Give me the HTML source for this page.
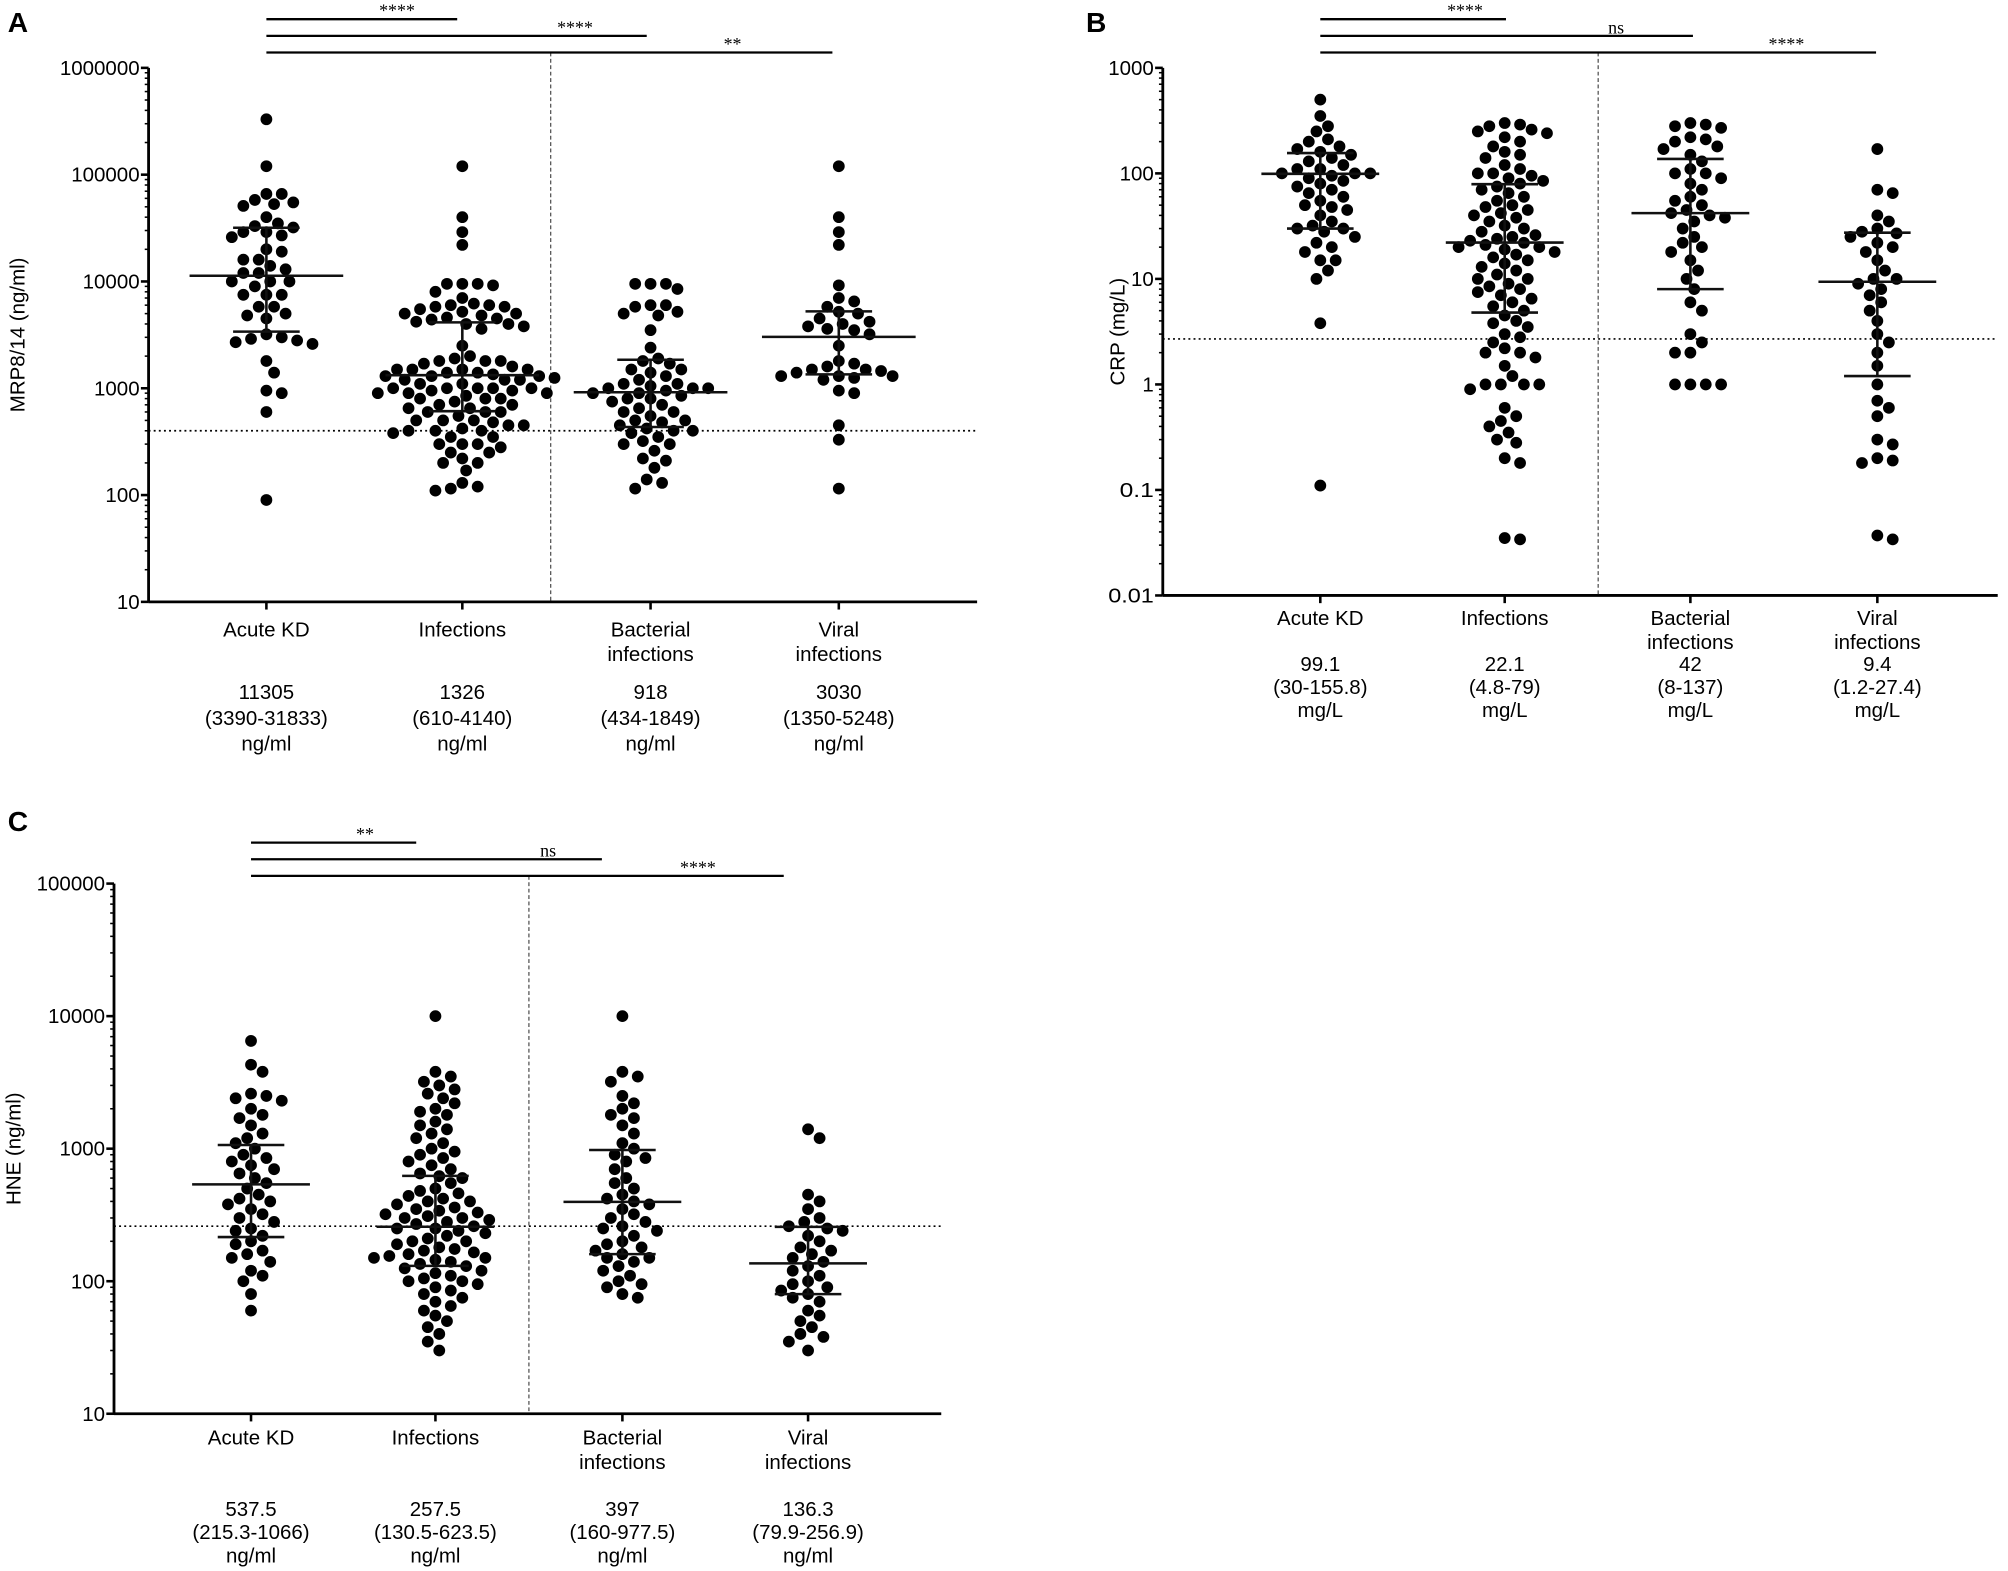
<!DOCTYPE html>
<html><head><meta charset="utf-8">
<style>
html,body{margin:0;padding:0;background:#fff;}
svg{display:block;}
text{font-family:"Liberation Sans",Arial,sans-serif;fill:#000;}
.serif{font-family:"Liberation Serif",serif;}
</style></head>
<body>
<svg id="fig" width="2008" height="1571" viewBox="0 0 1568 1226.8" xmlns="http://www.w3.org/2000/svg"></svg>
<script>
const categories = ["Acute KD","Infections","Bacterial infections","Viral infections"];
// Panel A: MRP8/14
const A_KD = [330000,120000,66000,66000,58000,55000,53000,51000,40000,35000,33000,32000,29000,29000,27000,26000,20000,19000,16000,16000,14000,13000,12000,12000,10000,10000,10000,9000,7500,7500,7500,5800,5800,5000,4800,4500,3200,3000,2900,2800,2700,2600,1800,1400,950,900,600,90];
const A_INF = [120000,40000,29000,22000,9500,9500,9500,9200,8000,7000,6200,6000,6000,5800,5800,5500,5200,5000,5000,4800,4600,4500,4400,4200,4000,4000,3800,3600,2500,2000,1900,1800,1800,1800,1700,1600,1500,1500,1500,1500,1400,1400,1350,1300,1300,1300,1250,1200,1200,1200,1100,1100,1000,1000,1000,1000,1000,950,950,900,900,900,850,800,800,800,750,700,700,650,650,600,600,600,550,500,500,500,480,450,450,420,400,400,400,380,350,350,300,300,300,280,250,250,220,200,200,170,130,120,110,115];
const A_BAC = [9500,9500,9500,8500,6000,6000,5800,5200,5000,4800,3500,2400,1900,1800,1700,1500,1500,1400,1300,1200,1100,1100,1050,1000,1000,1000,950,900,900,850,800,800,750,700,650,600,600,550,500,500,480,450,420,400,400,380,350,320,300,300,260,220,210,180,140,130,115];
const A_VIR = [120000,40000,29000,22000,9200,7000,6500,5800,5200,5000,4500,4200,4000,3800,3600,3500,3200,2500,1800,1700,1600,1500,1500,1450,1400,1300,1300,1300,1250,1200,950,900,450,330,115];
const A_MED = [11305,1326,918,3030];
const A_Q1 = [3390,610,434,1350];
const A_Q3 = [31833,4140,1849,5248];
const A_STAT = ["11305|(3390-31833)|ng/ml","1326|(610-4140)|ng/ml","918|(434-1849)|ng/ml","3030|(1350-5248)|ng/ml"];
const A_TICKS = ["10","100","1000","10000","100000","1000000"];
const A_REF = 400;
// Panel B: CRP
const B_KD = [500,350,280,250,210,200,180,170,160,150,140,130,120,110,110,100,100,100,95,90,85,80,75,70,65,60,55,50,48,45,40,35,32,30,30,28,25,22,20,18,15,15,12,10,3.8,0.11];
const B_INF = [300,290,280,260,250,240,220,200,180,160,150,140,120,110,100,100,95,90,85,80,75,70,65,60,55,50,48,45,42,40,38,35,32,30,28,26,25,24,23,22,21,20,20,19,18,17,16,15,14,13,12,11,10,10,9,8.5,8,7.5,7,6.5,6,5.5,5,4.5,4,3.8,3.5,3,2.8,2.5,2.2,2,2,1.8,1.5,1.2,1,1,1,1,0.9,0.6,0.5,0.45,0.4,0.35,0.3,0.28,0.2,0.18,0.035,0.034];
const B_BAC = [300,290,280,270,220,210,200,180,170,150,130,110,100,100,90,80,70,60,55,50,45,42,40,38,35,30,25,22,20,18,15,12,10,8,6,5,3,2.5,2,2,1,1,1,1];
const B_VIR = [170,70,65,40,35,30,28,27,25,22,20,18,15,12,10,10,9,8,7,6,5,4,3,2.5,2,1.5,1,0.7,0.6,0.5,0.3,0.27,0.2,0.19,0.18,0.037,0.034];
const B_MED = [99.1,22.1,42,9.4];
const B_Q1 = [30,4.8,8,1.2];
const B_Q3 = [155.8,79,137,27.4];
const B_STAT = ["99.1|(30-155.8)|mg/L","22.1|(4.8-79)|mg/L","42|(8-137)|mg/L","9.4|(1.2-27.4)|mg/L"];
const B_TICKS = ["0.01","0.1","1","10","100","1000"];
const B_REF = 2.7;
// Panel C: HNE
const C_KD = [6500,4300,3800,2600,2500,2400,2300,2000,1800,1700,1500,1300,1200,1100,1000,900,850,800,750,700,650,600,550,500,450,420,400,380,350,320,300,280,250,240,220,200,190,170,160,150,140,120,110,100,80,60];
const C_INF = [10000,3800,3500,3200,3000,2800,2600,2400,2200,2000,1900,1800,1600,1500,1400,1300,1200,1100,1000,950,900,850,800,750,700,650,620,600,550,500,480,460,440,420,400,400,380,360,350,340,330,320,310,300,300,290,280,270,260,250,250,240,230,220,210,200,200,190,180,175,170,165,160,155,150,150,145,140,135,130,125,120,115,110,105,100,100,95,90,85,80,75,70,65,60,55,50,45,40,35,30];
const C_BAC = [10000,3800,3500,3200,2500,2200,2000,1800,1700,1500,1300,1100,1000,900,850,800,700,600,550,500,450,420,400,380,350,320,300,280,260,250,240,220,200,190,180,170,160,150,150,140,130,120,110,100,95,90,80,75];
const C_VIR = [1400,1200,450,400,350,300,280,260,250,240,220,200,180,170,160,150,140,130,120,110,100,95,90,85,80,75,70,60,55,50,45,40,38,35,30];
const C_MED = [537.5,257.5,397,136.3];
const C_Q1 = [215.3,130.5,160,79.9];
const C_Q3 = [1066,623.5,977.5,256.9];
const C_STAT = ["537.5|(215.3-1066)|ng/ml","257.5|(130.5-623.5)|ng/ml","397|(160-977.5)|ng/ml","136.3|(79.9-256.9)|ng/ml"];
const C_TICKS = ["10","100","1000","10000","100000"];
const C_REF = 260;

const NS="http://www.w3.org/2000/svg";
const svg=document.getElementById('fig');
function mk(tag,attrs,parent){const e=document.createElementNS(NS,tag);for(const k in attrs)e.setAttribute(k,attrs[k]);(parent||svg).appendChild(e);return e;}

function panel(cfg){
  const g=mk('g',{});
  
  
  const lmin=Math.log10(parseFloat(cfg.ticks[0]));
  const lmax=Math.log10(parseFloat(cfg.ticks[cfg.ticks.length-1]));
  const Y=v=>cfg.yBot-(Math.log10(v)-lmin)/(lmax-lmin)*(cfg.yBot-cfg.yTop);
  const X=i=>cfg.xs[i];
  const L=mk('text',{x:cfg.letterX,y:cfg.letterY,'font-size':22,'font-weight':'bold'},g);L.textContent=cfg.letter;
  
  
  const ax=mk('g',{},g);
  
  
  mk('line',{x1:cfg.ax,y1:cfg.yTop,x2:cfg.ax,y2:cfg.yBot,stroke:'#000','stroke-width':2.2},ax);
  cfg.ticks.forEach((t,i)=>{
    const v=parseFloat(t),y=Y(v);
    mk('line',{x1:cfg.ax-6,y1:y,x2:cfg.ax,y2:y,stroke:'#000','stroke-width':2},ax);
    const tx=mk('text',{x:cfg.ax-7,y:y+5.5,'font-size':16,'text-anchor':'end',textLength:t.length*8.9,lengthAdjust:'spacingAndGlyphs'},ax);tx.textContent=t;
    
    
    if(i<cfg.ticks.length-1){for(let m=2;m<=9;m++){const ym=Y(v*m);mk('line',{x1:cfg.ax-3,y1:ym,x2:cfg.ax,y2:ym,stroke:'#000','stroke-width':1.2},ax);}}
  });
  const xa=mk('line',{x1:cfg.ax,y1:cfg.yBot,x2:cfg.axEnd,y2:cfg.yBot,stroke:'#000','stroke-width':2.2},g);
  
  
  const yt=mk('text',{x:0,y:0,'font-size':16,'text-anchor':'middle',transform:`translate(${cfg.titleX},${(cfg.yTop+cfg.yBot)/2}) rotate(-90)`},g);
  yt.textContent=cfg.title;
  
  
  mk('line',{x1:cfg.divX,y1:cfg.sig[2].y,x2:cfg.divX,y2:cfg.yBot,stroke:'#555','stroke-width':1,'stroke-dasharray':'3,2'},g);
  const rl=mk('line',{x1:cfg.ax,y1:Y(cfg.ref),x2:cfg.axEnd,y2:Y(cfg.ref),stroke:'#000','stroke-width':1.3,'stroke-dasharray':'1.5,2.5'},g);
  
  
  cfg.xs.forEach((x,i)=>{
    mk('line',{x1:x,y1:cfg.yBot,x2:x,y2:cfg.yBot+6,stroke:'#000','stroke-width':2},g);
    const words=categories[i].split(' ');
    const lines=words.length===2&&i>=2?words:[categories[i]];
    lines.forEach((w,j)=>{const t=mk('text',{x:x,y:cfg.labY+j*19,'font-size':16,'text-anchor':'middle'},g);t.textContent=w;
      
      });
    cfg.stat[i].split('|').forEach((s,j)=>{const t=mk('text',{x:x,y:cfg.statY+j*cfg.statGap,'font-size':16,'text-anchor':'middle'},g);t.textContent=s;
      
      });
  });
  const r=4.6;
  cfg.groups.forEach((vals,i)=>{
    const gg=mk('g',{},g);
    
    
    const placed=[];
    vals.slice().sort((a,b)=>b-a).forEach(v=>{
      const y=Y(v);let dx=0;
      for(let k=0;k<60;k++){
        const c=(k%2?1:-1)*Math.ceil(k/2)*3;
        if(placed.every(p=>(p[0]-c)**2+(p[1]-y)**2>=(2*r+0.6)**2)){dx=c;break;}
      }
      placed.push([dx,y]);
      const ci=mk('circle',{cx:X(i)+dx,cy:y,r:r,fill:'#000'},gg);
      
      
    });
    const x=X(i);
    const ml=mk('line',{x1:x-cfg.mw,y1:Y(cfg.med[i]),x2:x+cfg.mw,y2:Y(cfg.med[i]),stroke:'#111','stroke-width':2},g);
    
    
    mk('line',{x1:x,y1:Y(cfg.q1[i]),x2:x,y2:Y(cfg.q3[i]),stroke:'#111','stroke-width':2},g);
    mk('line',{x1:x-26,y1:Y(cfg.q1[i]),x2:x+26,y2:Y(cfg.q1[i]),stroke:'#111','stroke-width':2},g);
    mk('line',{x1:x-26,y1:Y(cfg.q3[i]),x2:x+26,y2:Y(cfg.q3[i]),stroke:'#111','stroke-width':2},g);
  });
  cfg.sig.forEach(s=>{
    const sb=mk('g',{},g);
    
    
    mk('line',{x1:cfg.xs[0],y1:s.y,x2:s.x2,y2:s.y,stroke:'#000','stroke-width':1.8},sb);
    const t=mk('text',{x:s.tx,y:s.y-2,'font-size':14,'text-anchor':'middle',class:'serif'},sb);t.textContent=s.t;
  });
}

panel({name:'panel-a-mrp8-14',letter:'A',letterX:6,letterY:25,ax:116,axEnd:763,yTop:53,yBot:470,ticks:A_TICKS,xs:[208,361,508,655],
  groups:[A_KD,A_INF,A_BAC,A_VIR],med:A_MED,q1:A_Q1,q3:A_Q3,stat:A_STAT,ref:A_REF,divX:430,title:'MRP8/14 (ng/ml)',titleX:19,
  labY:497,statY:546,statGap:20,mw:60,
  sig:[{y:15,x2:357,t:'****',tx:310},{y:28,x2:505,t:'****',tx:449},{y:41,x2:650,t:'**',tx:572}]});
panel({name:'panel-b-crp',letter:'B',letterX:848,letterY:25,ax:908,axEnd:1560,yTop:53,yBot:465,ticks:B_TICKS,xs:[1031,1175,1320,1466],
  groups:[B_KD,B_INF,B_BAC,B_VIR],med:B_MED,q1:B_Q1,q3:B_Q3,stat:B_STAT,ref:B_REF,divX:1248,title:'CRP (mg/L)',titleX:878,
  labY:488,statY:524,statGap:18,mw:46,
  sig:[{y:15,x2:1176,t:'****',tx:1144},{y:28,x2:1322,t:'ns',tx:1262},{y:41,x2:1465,t:'****',tx:1395}]});
panel({name:'panel-c-hne',letter:'C',letterX:6,letterY:649,ax:89,axEnd:735,yTop:690,yBot:1104,ticks:C_TICKS,xs:[196,340,486,631],
  groups:[C_KD,C_INF,C_BAC,C_VIR],med:C_MED,q1:C_Q1,q3:C_Q3,stat:C_STAT,ref:C_REF,divX:413,title:'HNE (ng/ml)',titleX:16,
  labY:1128,statY:1184,statGap:18,mw:46,
  sig:[{y:658,x2:325,t:'**',tx:285},{y:671,x2:470,t:'ns',tx:428},{y:684,x2:612,t:'****',tx:545}]});
</script>
</body></html>
